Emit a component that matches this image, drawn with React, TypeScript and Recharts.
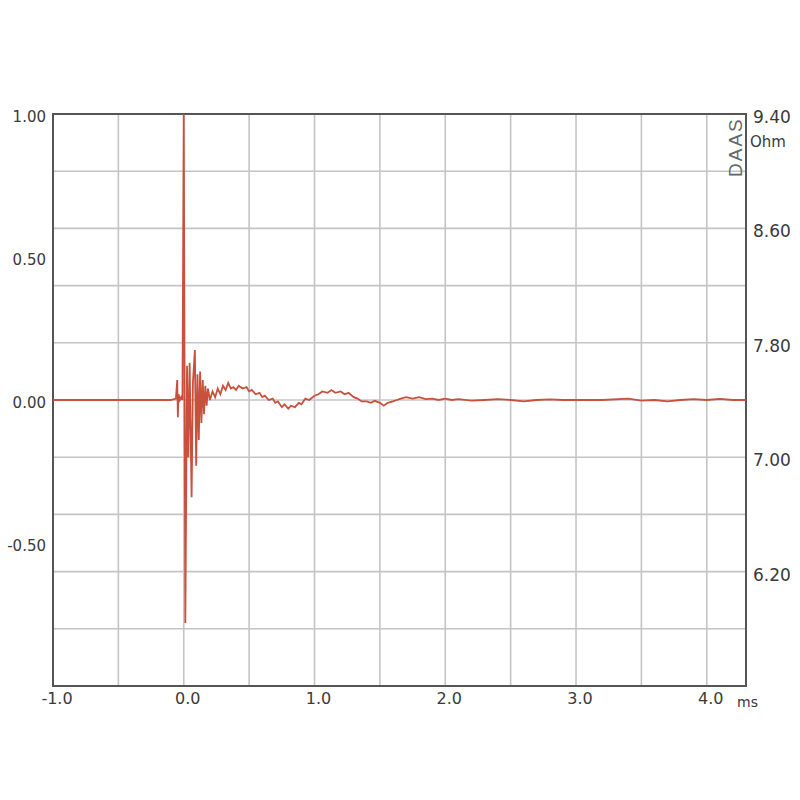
import { LineChart, Line, XAxis, YAxis, CartesianGrid, ReferenceArea } from 'recharts'

// impulse response, time in ms, amplitude normalised
const timeMs = [
  -1.0, -0.5, -0.1, -0.06, -0.05, -0.045, -0.04, -0.03, -0.02, -0.01,
  0.0, 0.012, 0.025, 0.035, 0.045, 0.06, 0.07, 0.085, 0.095, 0.105,
  0.115, 0.125, 0.135, 0.145, 0.155, 0.165, 0.175, 0.185, 0.2, 0.22,
  0.24, 0.26, 0.28, 0.3, 0.32, 0.34, 0.36, 0.38, 0.4, 0.42,
  0.45, 0.48, 0.5, 0.52, 0.55, 0.58, 0.6, 0.62, 0.65, 0.68,
  0.7, 0.72, 0.75, 0.77, 0.8, 0.82, 0.85, 0.88, 0.9, 0.93,
  0.96, 1.0, 1.03, 1.06, 1.1, 1.13, 1.16, 1.2, 1.23, 1.26,
  1.3, 1.33, 1.36, 1.4, 1.43, 1.46, 1.5, 1.53, 1.56, 1.6,
  1.63, 1.66, 1.7, 1.75, 1.8, 1.85, 1.9, 1.95, 2.0, 2.05,
  2.1, 2.2, 2.3, 2.4, 2.5, 2.6, 2.7, 2.8, 2.9, 3.0,
  3.2, 3.4, 3.5, 3.6, 3.7, 3.8, 3.9, 4.0, 4.1, 4.2, 4.3,
]
const amplitude = [
  0, 0, 0, 0.005, 0.07, -0.06, 0.02, 0.0, 0.01, 0.0,
  1.0, -0.78, 0.12, -0.2, 0.13, -0.34, 0.06, 0.175, -0.23, 0.09,
  -0.14, 0.1, -0.08, 0.07, -0.05, 0.05, -0.02, 0.04, 0.0, 0.03,
  0.01, 0.04, 0.02, 0.05, 0.035, 0.06, 0.04, 0.045, 0.035, 0.05,
  0.04, 0.045, 0.03, 0.035, 0.02, 0.025, 0.01, 0.015, 0.0, 0.005,
  -0.01, -0.005, -0.025, -0.015, -0.03, -0.02, -0.025, -0.01, -0.015, 0.005,
  0.0, 0.015, 0.02, 0.03, 0.025, 0.035, 0.025, 0.03, 0.02, 0.025,
  0.01, 0.005, -0.005, -0.005, -0.01, -0.003, -0.01, -0.02, -0.01, -0.005,
  0.0, 0.005, 0.01, 0.005, 0.01, 0.003, 0.005, 0.0, 0.005, 0.0,
  0.003, -0.002, 0.0, 0.003, 0.0, -0.005, 0.0, 0.002, 0.0, 0.0,
  0.0, 0.005, -0.002, 0.0, -0.005, 0.0, 0.003, 0.0, 0.004, 0.0, 0.0,
]

const xTicks = [-1, -0.5, 0, 0.5, 1, 1.5, 2, 2.5, 3, 3.5, 4]
const leftTicks = [1, 0.5, 0, -0.5]
const ohmTicks = [5.4, 5.8, 6.2, 6.6, 7.0, 7.4, 7.8, 8.2, 8.6, 9.0, 9.4]
const ohmLabels = [9.4, 8.6, 7.8, 7.0, 6.2]

const data = timeMs.map((t, i) => ({ t, v: amplitude[i] }))

const font = '"DejaVu Sans", Verdana, sans-serif'
const tickColor = '#3a3a3a'

export default function App() {
  return (
    <div style={{ position: 'absolute', left: 0, top: 0, width: 800, height: 800, background: '#fff' }}>
      <LineChart width={800} height={800} data={data} margin={{ top: 114, right: 4, left: 3, bottom: 84 }}>
        <CartesianGrid yAxisId="ohm" stroke="#c4c4c4" strokeWidth={1.6} />
        <XAxis
          dataKey="t"
          type="number"
          domain={[-1, 4.3]}
          ticks={xTicks}
          allowDataOverflow
          height={30}
          axisLine={false}
          tickLine={false}
          tickSize={0}
          tickMargin={7}
          tick={{ fontSize: 16, fill: tickColor, fontFamily: font, dx: 4 }}
          tickFormatter={(v: number) => (Number.isInteger(v) ? v.toFixed(1) : '')}
        />
        <YAxis
          yAxisId="amp"
          type="number"
          domain={[-1, 1]}
          ticks={leftTicks}
          allowDataOverflow
          width={50}
          axisLine={false}
          tickLine={false}
          tickSize={0}
          tickMargin={7}
          tick={{ fontSize: 15, fill: tickColor, fontFamily: font, dy: 3 }}
          tickFormatter={(v: number) => v.toFixed(2)}
        />
        <YAxis
          yAxisId="ohm"
          orientation="right"
          type="number"
          domain={[5.4, 9.4]}
          ticks={ohmTicks}
          allowDataOverflow
          width={50}
          axisLine={false}
          tickLine={false}
          tickSize={0}
          tickMargin={7}
          tick={{ fontSize: 17, fill: tickColor, fontFamily: font, dy: 3 }}
          tickFormatter={(v: number) => (ohmLabels.some((l) => Math.abs(l - v) < 1e-6) ? v.toFixed(2) : '')}
        />
        <Line
          yAxisId="amp"
          type="linear"
          dataKey="v"
          stroke="#c8503c"
          strokeWidth={1.8}
          dot={false}
          isAnimationActive={false}
        />
        <ReferenceArea
          yAxisId="amp"
          x1={-1}
          x2={4.3}
          y1={-1}
          y2={1}
          fill="none"
          stroke="#555"
          strokeWidth={2}
          ifOverflow="visible"
        />
      </LineChart>
      <div style={{ position: 'absolute', left: 737, top: 694, fontFamily: font, fontSize: 14, color: tickColor }}>ms</div>
      <div style={{ position: 'absolute', left: 750, top: 133, fontFamily: font, fontSize: 15, color: tickColor }}>Ohm</div>
      <div
        style={{
          position: 'absolute',
          left: 726,
          top: 177,
          fontFamily: '"Liberation Sans", Arial, sans-serif',
          fontSize: 19,
          color: '#666',
          transform: 'rotate(-90deg)',
          transformOrigin: 'left top',
          lineHeight: '20px',
          letterSpacing: 2,
          whiteSpace: 'nowrap',
        }}
      >
        DAAS
      </div>
    </div>
  )
}
